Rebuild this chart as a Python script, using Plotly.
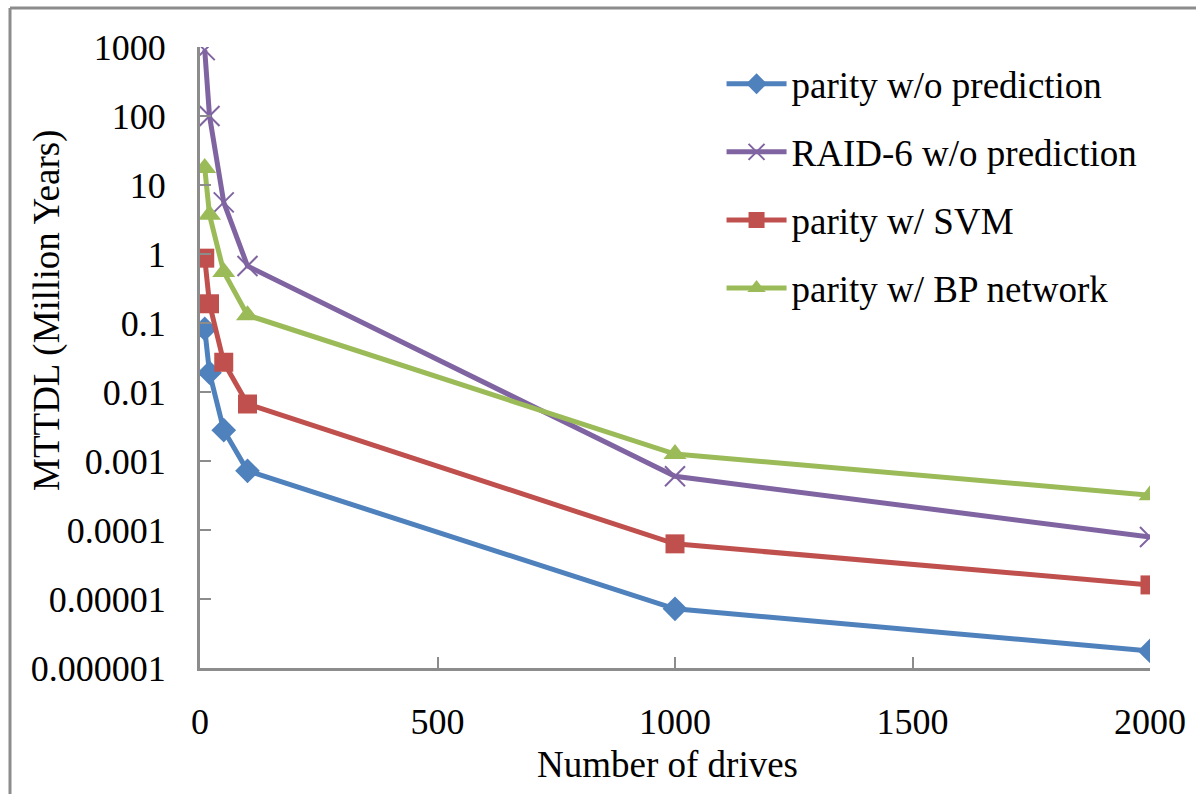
import plotly.graph_objects as go

drives = [10, 20, 50, 100, 1000, 2000]
parity_wo = [0.082, 0.019, 0.0028, 0.00072, 7.2e-6, 1.77e-6]
raid6_wo = [900, 100, 5.6, 0.67, 6.0e-4, 7.9e-5]
parity_svm = [0.87, 0.19, 0.027, 0.0067, 6.3e-5, 1.6e-5]
parity_bp = [17.7, 3.7, 0.55, 0.13, 1.26e-3, 3.2e-4]

names = ["parity w/o prediction", "RAID-6 w/o prediction", "parity w/ SVM", "parity w/ BP network"]
colors = ["#4F81BD", "#8064A2", "#C0504D", "#9BBB59"]
symbols = ["diamond", "x-thin", "square", "triangle-up"]
sizes = [19, 20, 19, 20]
series = [parity_wo, raid6_wo, parity_svm, parity_bp]

x_title = "Number of drives"
y_title = "MTTDL (Million Years)"

FONT = "Liberation Serif, Times New Roman, serif"

fig = go.Figure()
for i, (n, c, s, sz, ys) in enumerate(zip(names, colors, symbols, sizes, series)):
    marker = dict(symbol=s, size=sz, color=c)
    if s == "x-thin":
        marker["line"] = dict(color=c, width=2)
    fig.add_trace(go.Scatter(
        x=drives, y=ys, name=n, mode="lines+markers",
        line=dict(color=c, width=5), marker=marker, legendgroup=str(i),
    ))

fig.update_layout(
    width=1196, height=794,
    margin=dict(l=200, r=46, t=47, b=126),
    paper_bgcolor="white", plot_bgcolor="white",
    font=dict(family=FONT, size=36, color="black"),
    showlegend=True,
    legend=dict(x=0.549, y=0.99, xanchor="left", yanchor="top",
                font=dict(family=FONT, size=37), tracegroupgap=17,
                bgcolor="rgba(0,0,0,0)", itemwidth=60),
)
fig.update_xaxes(
    range=[0, 2000], tickvals=[0, 500, 1000, 1500, 2000],
    showgrid=False, zeroline=False, showline=True, linecolor="#8C8C8C", linewidth=3,
    ticks="inside", ticklen=11, tickwidth=2, tickcolor="#8C8C8C",
    ticklabelstandoff=20, automargin=False,
)
ytv = [1e-6, 1e-5, 1e-4, 1e-3, 1e-2, 1e-1, 1, 10, 100, 1000]
ytt = ["0.000001", "0.00001", "0.0001", "0.001", "0.01", "0.1", "1", "10", "100", "1000"]
fig.update_yaxes(
    type="log", range=[-6, 3], tickvals=ytv, ticktext=ytt,
    showgrid=False, zeroline=False, showline=True, linecolor="#8C8C8C", linewidth=3,
    ticks="inside", ticklen=11, tickwidth=2, tickcolor="#8C8C8C",
    ticklabelstandoff=24, automargin=False,
)
fig.add_annotation(text=x_title, xref="paper", yref="paper", x=0.492, y=-0.156,
                   xanchor="center", yanchor="middle", showarrow=False,
                   font=dict(family=FONT, size=37, color="black"))
fig.add_annotation(text=y_title, xref="paper", yref="paper", x=-0.161, y=0.575,
                   xanchor="center", yanchor="middle", showarrow=False, textangle=-90,
                   font=dict(family=FONT, size=37, color="black"))
# outer frame (top and left edges)
fig.add_shape(type="line", xref="paper", yref="paper", x0=-0.2, x1=1.1, y0=1.0628, y1=1.0628,
              line=dict(color="#8C8C8C", width=3))
fig.add_shape(type="line", xref="paper", yref="paper", x0=-0.2, x1=-0.2, y0=1.0628, y1=-0.3,
              line=dict(color="#8C8C8C", width=3))

fig.write_html("out.html")
